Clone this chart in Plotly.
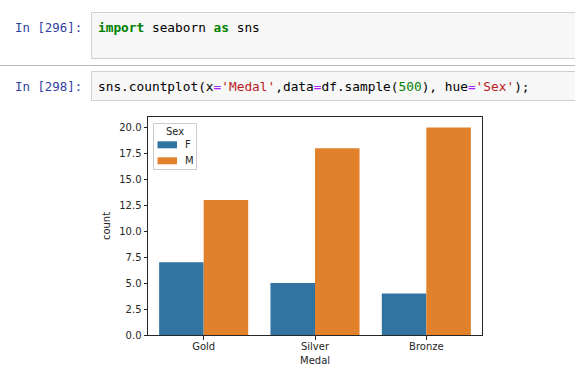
import plotly.graph_objects as go

# Data
medals = ["Gold", "Silver", "Bronze"]
count_f = [7, 5, 4]
count_m = [13, 18, 20]
sexes = ["F", "M"]
colors = ["#3274a1", "#e1812c"]
y_ticks = [0, 2.5, 5, 7.5, 10, 12.5, 15, 17.5, 20]

W, H = 575, 378
L, R, T, B = 148, 482, 117, 335


def px(x):
    return (x - L) / (R - L)


def py(y):
    return (B - y) / (B - T)


fig = go.Figure()
for name, vals, col in zip(sexes, [count_f, count_m], colors):
    fig.add_trace(go.Bar(x=medals, y=vals, name=name, marker=dict(color=col, line=dict(width=0)),
                         showlegend=False))

axis_col = "#262626"
fig.update_layout(
    width=W, height=H,
    margin=dict(l=L, r=W - R, t=T, b=H - B, pad=0),
    paper_bgcolor="white", plot_bgcolor="white",
    barmode="group", bargap=0.2, bargroupgap=0,
    font=dict(family="DejaVu Sans", size=10, color=axis_col),
    xaxis=dict(
        range=[-0.5, 2.5], showline=True, mirror=True, linecolor=axis_col, linewidth=1,
        ticks="outside", ticklen=3.5, tickwidth=1, tickcolor=axis_col,
        ticklabelstandoff=-2,
        showgrid=False, zeroline=False,
        automargin=False,
    ),
    yaxis=dict(
        range=[0, 21], showline=True, mirror=True, linecolor=axis_col, linewidth=1,
        ticks="outside", ticklen=3.5, tickwidth=1, tickcolor=axis_col,
        tickvals=y_ticks, tickformat=".1f",
        showgrid=False, zeroline=False,
        title=dict(text="count", standoff=6, font=dict(size=10)),
        automargin=False,
    ),
)

shapes = []
# notebook cell boxes
for top, bot in [(12.5, 58.5), (71.5, 100.5)]:
    shapes.append(dict(type="rect", xref="paper", yref="paper",
                       x0=px(91.5), x1=px(590), y0=py(bot), y1=py(top),
                       fillcolor="#f7f7f7", line=dict(color="#cfcfcf", width=1), layer="below"))
shapes.append(dict(type="line", xref="paper", yref="paper",
                   x0=px(0), x1=px(575), y0=py(65.5), y1=py(65.5),
                   line=dict(color="#b8b8b8", width=1)))
# legend frame and swatches
shapes.append(dict(type="rect", xref="paper", yref="paper",
                   x0=px(153.5), x1=px(196.5), y0=py(169.5), y1=py(123.5),
                   fillcolor="rgba(255,255,255,0.8)", line=dict(color="#cccccc", width=1)))
annots = []
for i, (name, col) in enumerate(zip(sexes, colors)):
    yc = 144.8 + 16 * i
    shapes.append(dict(type="rect", xref="paper", yref="paper",
                       x0=px(157.5), x1=px(177), y0=py(yc + 3.5), y1=py(yc - 3.5),
                       fillcolor=col, line=dict(width=0)))
    annots.append(dict(text=name, x=px(183), y=py(yc), xanchor="left", yanchor="middle",
                       font=dict(size=10, color=axis_col)))
annots.append(dict(text="Sex", x=px(175), y=py(131.5), xanchor="center", yanchor="middle",
                   font=dict(size=10, color=axis_col)))
# x axis title
annots.append(dict(text="Medal", x=0.5, y=py(360), xanchor="center", yanchor="middle",
                   font=dict(size=10, color=axis_col)))
fig.update_layout(shapes=shapes)

mono = "DejaVu Sans Mono"
G = "#008000"
RD = "#BA2121"
PU = "#AA22FF"
code1 = f"<span style='color:{G}'><b>import</b></span> seaborn <span style='color:{G}'><b>as</b></span> sns"
code2 = (f"sns.countplot(x<span style='color:{PU}'>=</span><span style='color:{RD}'>'Medal'</span>,"
         f"data<span style='color:{PU}'>=</span>df.sample(<span style='color:{G}'>500</span>), "
         f"hue<span style='color:{PU}'>=</span><span style='color:{RD}'>'Sex'</span>);")

annots += [
    dict(text="In [296]:", x=px(84), y=py(28), xanchor="right", yanchor="middle",
         font=dict(family=mono, size=12.4, color="#303F9F")),
    dict(text="In [298]:", x=px(84), y=py(87), xanchor="right", yanchor="middle",
         font=dict(family=mono, size=12.4, color="#303F9F")),
    dict(text=code1, x=px(96), y=py(28), xanchor="left", yanchor="middle",
         font=dict(family=mono, size=12.8, color="#000000")),
    dict(text=code2, x=px(96), y=py(87), xanchor="left", yanchor="middle",
         font=dict(family=mono, size=12.8, color="#000000")),
]
for a in annots:
    a.update(xref="paper", yref="paper", showarrow=False)
fig.update_layout(annotations=annots)

fig.write_html("out.html")
